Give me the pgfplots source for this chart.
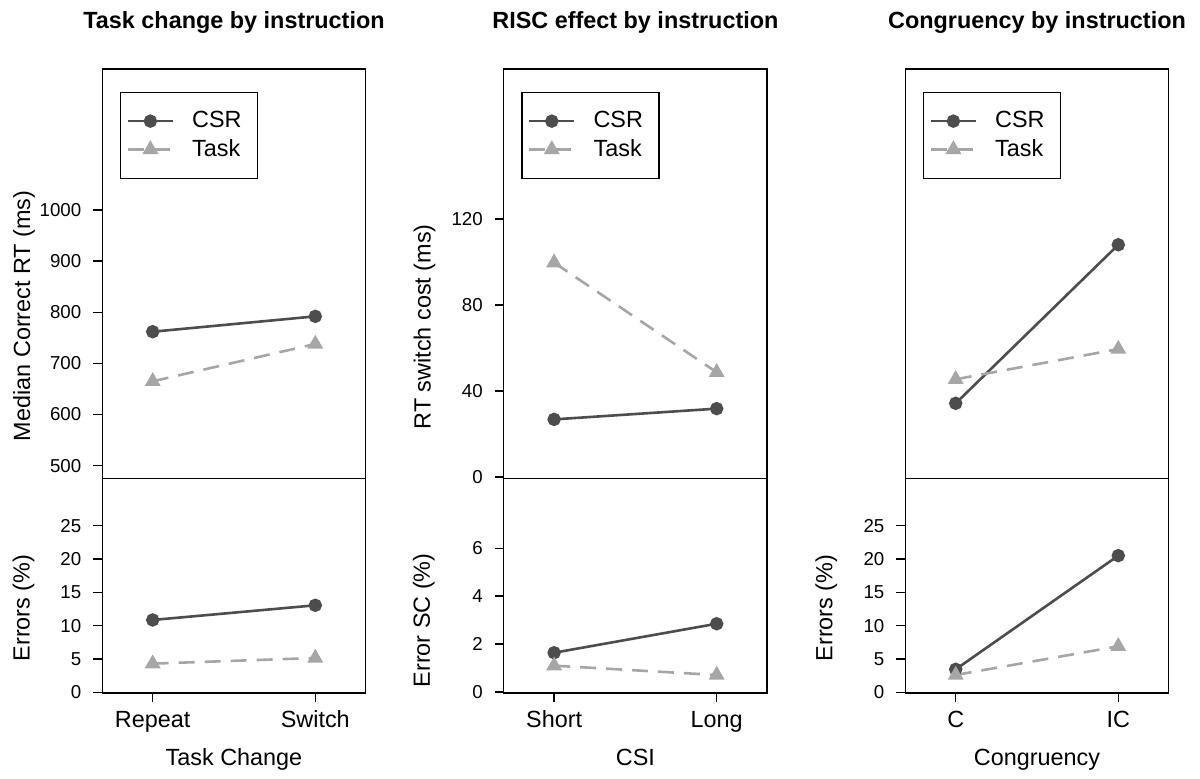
\documentclass[border=0pt]{standalone}
\usepackage{fontspec}
\setmainfont{Liberation Sans}
\usepackage{pgfplots}
\pgfplotsset{compat=1.18}
\definecolor{csrcol}{RGB}{77,77,77}
\definecolor{taskcol}{RGB}{166,166,166}
\newcommand{\basefont}{\fontsize{11.7}{14}\selectfont}
\newcommand{\smallfont}{\fontsize{9.35}{11}\selectfont}
\pgfplotsset{
  panel/.style={
    scale only axis, width=131.7pt, xmin=0.69, xmax=2.31,
    axis line style={line width=0.75pt},
    tick style={line width=0.75pt, black},
    tick align=outside, major tick length=4.5pt,
    ytick pos=left, xtick pos=bottom,
    /pgf/number format/assume math mode=true,
    /pgf/number format/1000 sep={},
    yticklabel style={font=\smallfont, anchor=east, inner sep=0pt, xshift=-5.8pt},
    xticklabel style={font=\basefont, anchor=base, inner sep=0pt, yshift=-12.65pt},
    every axis y label/.style={rotate=90, anchor=center, font=\basefont},
    every axis x label/.style={at={(axis description cs:0.5,0)}, anchor=base, yshift=-36.5pt, font=\basefont},
    title style={at={(axis description cs:0.5,1)}, anchor=base, yshift=14.1pt, font=\bfseries\basefont},
  },
  leg/.style={
    legend style={at={(axis description cs:0.0672,0.9445)}, anchor=north west,
      draw=black, line width=0.6pt, inner xsep=3pt, inner ysep=7.35pt,
      row sep=0pt, column sep=9pt, font=\basefont,
      nodes={inner sep=0pt, minimum height=14.15pt}, cells={anchor=west}},
    legend image code/.code={\draw[mark repeat=2,mark phase=2,##1,line width=1.3pt] plot coordinates {(0pt,0pt) (11.25pt,0pt) (22.5pt,0pt)};},
  },
  csr/.style={color=csrcol, line width=1.3pt, mark=*, mark size=2.7pt, mark options={solid}},
  task/.style={color=taskcol, line width=1.3pt, dash pattern=on 8pt off 5pt, mark=triangle*, mark size=3.3pt, mark options={solid}},
}
\begin{document}
\begin{tikzpicture}
\useasboundingbox (0,0) rectangle (600pt,389.5pt);
% ---------- Panel 1 ----------
\begin{axis}[panel, leg, at={(51.15pt,150.35pt)}, anchor=south west, height=204.65pt,
  ymin=475.4, ymax=1275.7, ytick={500,600,...,1000}, xtick=\empty,
  ylabel={Median Correct RT (ms)}, ylabel style={at={(axis description cs:-0.297,0.397)}},
  title={Task change by instruction}]
\addplot[csr] coordinates {(1,762) (2,792)};
\addlegendentry{\makebox[29.65pt][l]{CSR}}
\addplot[task] coordinates {(1,665) (2,738)};
\addlegendentry{\makebox[29.65pt][l]{Task}}
\end{axis}
\begin{axis}[panel, at={(51.15pt,43pt)}, anchor=south west, height=107.35pt,
  ymin=-0.1, ymax=32.1, ytick={0,5,...,25}, xtick={1,2}, xticklabels={Repeat,Switch},
  xlabel={Task Change},
  ylabel={Errors (\%)}, ylabel style={at={(axis description cs:-0.299,0.396)}}]
\addplot[csr] coordinates {(1,10.85) (2,13.05)};
\addplot[task] coordinates {(1,4.3) (2,5.15)};
\end{axis}
% ---------- Panel 2 ----------
\begin{axis}[panel, leg, at={(251.85pt,150.35pt)}, anchor=south west, height=204.65pt,
  ymin=-0.6, ymax=189.8, ytick={0,40,80,120}, xtick=\empty,
  ylabel={RT switch cost (ms)}, ylabel style={at={(axis description cs:-0.30,0.37)}},
  title={RISC effect by instruction}]
\addplot[csr] coordinates {(1,26.8) (2,31.8)};
\addlegendentry{\makebox[29.65pt][l]{CSR}}
\addplot[task] coordinates {(1,99.7) (2,48.7)};
\addlegendentry{\makebox[29.65pt][l]{Task}}
\end{axis}
\begin{axis}[panel, at={(251.85pt,43pt)}, anchor=south west, height=107.35pt,
  ymin=-0.04, ymax=8.92, ytick={0,2,4,6}, xtick={1,2}, xticklabels={Short,Long},
  xlabel={CSI},
  ylabel={Error SC (\%)}, ylabel style={at={(axis description cs:-0.303,0.338)}}]
\addplot[csr] coordinates {(1,1.64) (2,2.85)};
\addplot[task] coordinates {(1,1.1) (2,0.71)};
\end{axis}
% ---------- Panel 3 ----------
\begin{axis}[panel, leg, at={(452.65pt,150.35pt)}, anchor=south west, height=204.65pt,
  ymin=475.4, ymax=1275.7, ytick=\empty, xtick=\empty,
  title={Congruency by instruction}]
\addplot[csr] coordinates {(1,622) (2,932)};
\addlegendentry{\makebox[29.65pt][l]{CSR}}
\addplot[task] coordinates {(1,669) (2,728)};
\addlegendentry{\makebox[29.65pt][l]{Task}}
\end{axis}
\begin{axis}[panel, at={(452.65pt,43pt)}, anchor=south west, height=107.35pt,
  ymin=-0.1, ymax=32.1, ytick={0,5,...,25}, xtick={1,2}, xticklabels={C,IC},
  xlabel={Congruency},
  ylabel={Errors (\%)}, ylabel style={at={(axis description cs:-0.30,0.396)}}]
\addplot[csr] coordinates {(1,3.45) (2,20.5)};
\addplot[task] coordinates {(1,2.6) (2,6.9)};
\end{axis}
\end{tikzpicture}
\end{document}
